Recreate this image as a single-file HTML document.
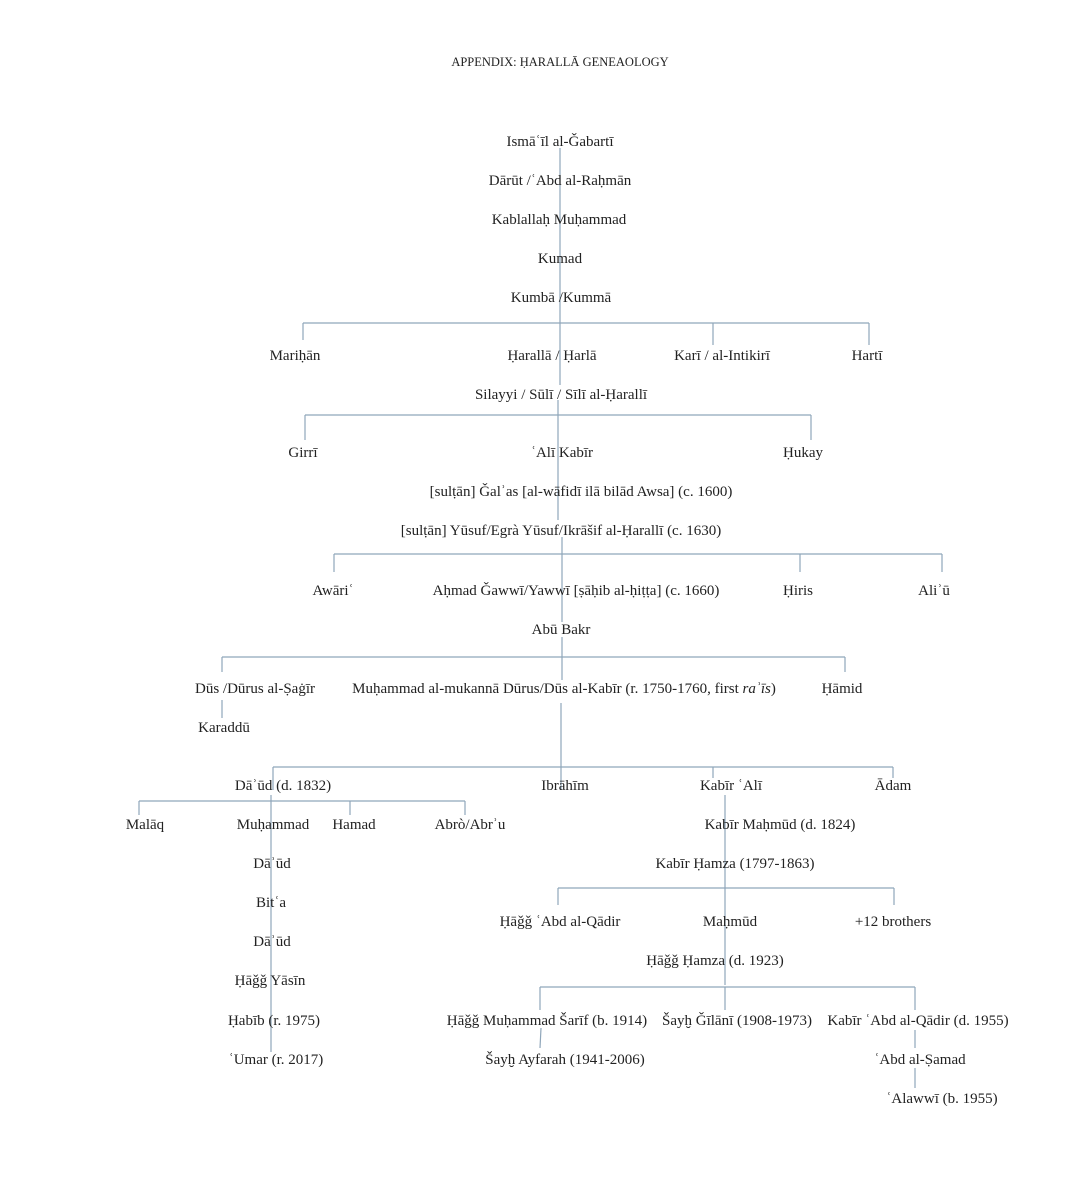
<!DOCTYPE html>
<html><head><meta charset="utf-8"><style>
html,body{margin:0;padding:0;background:#fff;}
svg{display:block}
text{font-family:"Liberation Serif","DejaVu Serif",serif;font-size:15px;fill:#222;text-anchor:middle}
.t{font-size:12.5px}
line{stroke:#8fa6ba;stroke-width:1.2}
</style></head><body>
<svg width="1080" height="1180" viewBox="0 0 1080 1180" xmlns="http://www.w3.org/2000/svg">
<g>
<line x1="560" y1="148" x2="560" y2="385"/>
<line x1="303" y1="323" x2="869" y2="323"/>
<line x1="303" y1="323" x2="303" y2="340"/>
<line x1="713" y1="323" x2="713" y2="345"/>
<line x1="869" y1="323" x2="869" y2="345"/>
<line x1="558" y1="400" x2="558" y2="520"/>
<line x1="305" y1="415" x2="811" y2="415"/>
<line x1="305" y1="415" x2="305" y2="440"/>
<line x1="811" y1="415" x2="811" y2="440"/>
<line x1="562" y1="537" x2="562" y2="622"/>
<line x1="334" y1="554" x2="942" y2="554"/>
<line x1="334" y1="554" x2="334" y2="572"/>
<line x1="800" y1="554" x2="800" y2="572"/>
<line x1="942" y1="554" x2="942" y2="572"/>
<line x1="562" y1="637" x2="562" y2="680"/>
<line x1="222" y1="657" x2="845" y2="657"/>
<line x1="222" y1="657" x2="222" y2="672"/>
<line x1="845" y1="657" x2="845" y2="672"/>
<line x1="222" y1="700" x2="222" y2="718"/>
<line x1="561" y1="703" x2="561" y2="790"/>
<line x1="273" y1="767" x2="893" y2="767"/>
<line x1="273" y1="767" x2="273" y2="790"/>
<line x1="713" y1="767" x2="713" y2="778"/>
<line x1="893" y1="767" x2="893" y2="778"/>
<line x1="139" y1="801" x2="465" y2="801"/>
<line x1="139" y1="801" x2="139" y2="815"/>
<line x1="350" y1="801" x2="350" y2="815"/>
<line x1="465" y1="801" x2="465" y2="815"/>
<line x1="271" y1="795" x2="271" y2="1052"/>
<line x1="725" y1="795" x2="725" y2="985"/>
<line x1="558" y1="888" x2="894" y2="888"/>
<line x1="558" y1="888" x2="558" y2="905"/>
<line x1="894" y1="888" x2="894" y2="905"/>
<line x1="540" y1="987" x2="915" y2="987"/>
<line x1="540" y1="987" x2="540" y2="1010"/>
<line x1="915" y1="987" x2="915" y2="1010"/>
<line x1="725" y1="987" x2="725" y2="1010"/>
<line x1="541" y1="1028" x2="540" y2="1048"/>
<line x1="915" y1="1030" x2="915" y2="1048"/>
<line x1="915" y1="1068" x2="915" y2="1088"/>
</g>
<text x="560" y="66" class="t">APPENDIX: ḤARALLĀ GENEAOLOGY</text>
<text x="560" y="146">Ismāʿīl al-Ǧabartī</text>
<text x="560" y="185">Dārūt /ʿAbd al-Raḥmān</text>
<text x="559" y="224">Kablallaḥ Muḥammad</text>
<text x="560" y="263">Kumad</text>
<text x="561" y="302">Kumbā /Kummā</text>
<text x="295" y="360">Mariḥān</text>
<text x="552" y="360">Ḥarallā / Ḥarlā</text>
<text x="722" y="360">Karī / al-Intikirī</text>
<text x="867" y="360">Hartī</text>
<text x="561" y="399">Silayyi / Sūlī / Sīlī al-Ḥarallī</text>
<text x="303" y="457">Girrī</text>
<text x="562" y="457">ʿAlī Kabīr</text>
<text x="803" y="457">Ḥukay</text>
<text x="581" y="496">[sulṭān] Ǧalʾas [al-wāfidī ilā bilād Awsa] (c. 1600)</text>
<text x="561" y="535">[sulṭān] Yūsuf/Egrà Yūsuf/Ikrāšif al-Ḥarallī (c. 1630)</text>
<text x="333" y="595">Awāriʿ</text>
<text x="576" y="595">Aḥmad Ǧawwī/Yawwī [ṣāḥib al-ḥiṭṭa] (c. 1660)</text>
<text x="798" y="595">Ḥiris</text>
<text x="934" y="595">Aliʾū</text>
<text x="561" y="634">Abū Bakr</text>
<text x="255" y="693">Dūs /Dūrus al-Ṣaġīr</text>
<text x="564" y="693">Muḥammad al-mukannā Dūrus/Dūs al-Kabīr (r. 1750-1760, first <tspan font-style="italic">raʾīs</tspan>)</text>
<text x="842" y="693">Ḥāmid</text>
<text x="224" y="732">Karaddū</text>
<text x="283" y="790">Dāʾūd (d. 1832)</text>
<text x="565" y="790">Ibrāhīm</text>
<text x="731" y="790">Kabīr ʿAlī</text>
<text x="893" y="790">Ādam</text>
<text x="145" y="829">Malāq</text>
<text x="273" y="829">Muḥammad</text>
<text x="354" y="829">Hamad</text>
<text x="470" y="829">Abrò/Abrʾu</text>
<text x="780" y="829">Kabīr Maḥmūd (d. 1824)</text>
<text x="272" y="868">Dāʾūd</text>
<text x="735" y="868">Kabīr Ḥamza (1797-1863)</text>
<text x="271" y="907">Bitʿa</text>
<text x="560" y="926">Ḥāǧǧ ʿAbd al-Qādir</text>
<text x="730" y="926">Maḥmūd</text>
<text x="893" y="926">+12 brothers</text>
<text x="272" y="946">Dāʾūd</text>
<text x="715" y="965">Ḥāǧǧ Ḥamza (d. 1923)</text>
<text x="270" y="985">Ḥāǧǧ Yāsīn</text>
<text x="274" y="1025">Ḥabīb (r. 1975)</text>
<text x="547" y="1025">Ḥāǧǧ Muḥammad Šarīf (b. 1914)</text>
<text x="737" y="1025">Šayḫ Ǧīlānī (1908-1973)</text>
<text x="918" y="1025">Kabīr ʿAbd al-Qādir (d. 1955)</text>
<text x="276" y="1064">ʿUmar (r. 2017)</text>
<text x="565" y="1064">Šayḫ Ayfarah (1941-2006)</text>
<text x="920" y="1064">ʿAbd al-Ṣamad</text>
<text x="942" y="1103">ʿAlawwī (b. 1955)</text>
</svg>
</body></html>
